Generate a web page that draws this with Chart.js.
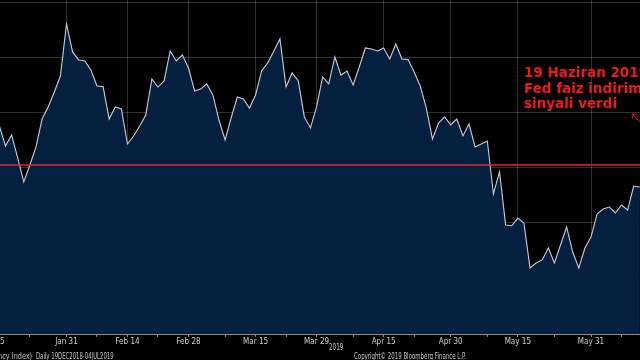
<!DOCTYPE html>
<html>
<head>
<meta charset="utf-8">
<script src="https://cdn.jsdelivr.net/npm/chart.js@4.4.1/dist/chart.umd.min.js"></script>
<style>
  html, body { margin: 0; padding: 0; background: #000; width: 640px; height: 360px; overflow: hidden; }
  #wrap { position: absolute; left: -25px; top: 0; width: 677px; height: 360px; }
  .note { position: absolute; left: 524px; top: 65px; color: #f01818; font: bold 13.5px 'DejaVu Sans', sans-serif; line-height: 15.5px; white-space: nowrap; }
  .foot { position: absolute; color: #c4c4c4; font: 8px 'DejaVu Sans Condensed', 'Liberation Sans', sans-serif; white-space: nowrap; line-height: 9px; }
</style>
</head>
<body>
<div id="wrap"><canvas id="chart" width="677" height="360"></canvas></div>
<div class="note">19 Haziran 2019<br>Fed faiz indirimi<br>sinyali verdi</div>
<div class="foot" id="year" style="left:327px; top:343px;">2019</div>
<div class="foot" id="srcName" style="right:608px; top:352px; transform-origin:right center;">(Currency Index)</div>
<div class="foot" id="srcRange" style="left:36px; top:352px; transform-origin:left center;">Daily 19DEC2018-04JUL2019</div>
<div class="foot" id="copy" style="left:354px; top:352px; transform-origin:left center;">Copyright© 2019 Bloomberg Finance L.P.</div>
<script>
// weekdays, Jan 10 - Jun 14 2019 (the picture is cropped, edges are off-screen)
const dates = [
  'Jan 10','Jan 11','Jan 14','Jan 15','Jan 16','Jan 17','Jan 18','Jan 21','Jan 22','Jan 23','Jan 24','Jan 25','Jan 28','Jan 29','Jan 30','Jan 31',
  'Feb 1','Feb 4','Feb 5','Feb 6','Feb 7','Feb 8','Feb 11','Feb 12','Feb 13','Feb 14','Feb 15','Feb 18','Feb 19','Feb 20','Feb 21','Feb 22','Feb 25','Feb 26','Feb 27','Feb 28',
  'Mar 1','Mar 4','Mar 5','Mar 6','Mar 7','Mar 8','Mar 11','Mar 12','Mar 13','Mar 14','Mar 15','Mar 18','Mar 19','Mar 20','Mar 21','Mar 22','Mar 25','Mar 26','Mar 27','Mar 28','Mar 29',
  'Apr 1','Apr 2','Apr 3','Apr 4','Apr 5','Apr 8','Apr 9','Apr 10','Apr 11','Apr 12','Apr 15','Apr 16','Apr 17','Apr 18','Apr 19','Apr 22','Apr 23','Apr 24','Apr 25','Apr 26','Apr 29','Apr 30',
  'May 1','May 2','May 3','May 6','May 7','May 8','May 9','May 10','May 13','May 14','May 15','May 16','May 17','May 20','May 21','May 22','May 23','May 24','May 27','May 28','May 29','May 30','May 31',
  'Jun 3','Jun 4','Jun 5','Jun 6','Jun 7','Jun 10','Jun 11','Jun 12','Jun 13','Jun 14'
];

const indexValues = [
  null, null, null, null,
  1633.82, 1632.00, 1633.00, 1630.91, 1628.73, 1630.27, 1631.91, 1634.45, 1635.55, 1636.91,
  1638.36, 1643.09, 1640.55, 1639.82, 1639.73, 1638.91, 1637.45, 1637.40, 1634.45, 1635.55,
  1635.36, 1632.18, 1632.91, 1633.82, 1634.82, 1638.09, 1637.36, 1637.91, 1640.64, 1639.73,
  1640.27, 1639.09, 1637.00, 1637.18, 1637.64, 1636.64, 1634.36, 1632.55, 1634.55, 1636.45,
  1636.27, 1635.45, 1636.64, 1638.82, 1639.55, 1640.64, 1641.73, 1637.36, 1638.64, 1637.91,
  1634.64, 1633.64, 1635.55, 1638.27, 1637.64, 1640.09, 1638.45, 1638.82, 1637.55, 1639.18,
  1640.91, 1640.82, 1640.64, 1640.91, 1639.91, 1641.27, 1639.91, 1639.85, 1638.73, 1637.45,
  1635.45, 1632.64, 1634.09, 1634.64, 1633.91, 1634.45, 1632.91, 1634.00, 1631.91, 1632.18,
  1632.45, 1627.64, 1629.64, 1624.82, 1624.75, 1625.45, 1625.00, 1620.91, 1621.36, 1621.64,
  1622.73, 1621.36, 1623.00, 1624.64, 1622.36, 1620.91, 1622.73, 1623.73, 1625.82, 1626.27,
  1626.45, 1625.91, 1626.64, 1626.18, 1628.36, 1628.27,
  null, null
];

const tickLabels = ['Jan 15','Jan 31','Feb 14','Feb 28','Mar 15','Mar 29','Apr 15','Apr 30','May 15','May 31'];
const minorTicks = ['Jan 23','Feb 7','Feb 21','Mar 8','Mar 22','Apr 8','Apr 22','May 8','May 23','Jun 7'];
const yTicks = [1615, 1620, 1625, 1630, 1635, 1640, 1645];
const yMin = 1614.91;
const yMax = 1645.27;
const fedLevel = 1630.27; // red horizontal line

const gridColor = 'rgba(255,255,255,0.19)';
const tickFont = { family: "'DejaVu Sans Condensed', 'Liberation Sans Narrow', 'Liberation Sans', sans-serif", size: 8 };

const levelLine = {
    id: 'levelLine',
    afterDatasetsDraw(chart) {
        const { ctx, chartArea, scales } = chart;
        const y = scales.y.getPixelForValue(fedLevel);
        ctx.save();
        ctx.strokeStyle = '#e3263d';
        ctx.lineWidth = 1.5;
        ctx.beginPath();
        ctx.moveTo(chartArea.left, y);
        ctx.lineTo(chartArea.right, y);
        ctx.stroke();
        ctx.restore();
    },
    afterDraw(chart) {
        // tail of the annotation arrow, cut by the right edge
        const ctx = chart.ctx;
        ctx.save();
        ctx.strokeStyle = '#d81c1c';
        ctx.lineWidth = 1;
        ctx.beginPath();
        ctx.moveTo(657, 114);
        ctx.lineTo(668, 125);
        ctx.moveTo(657, 114);
        ctx.lineTo(661.5, 114.5);
        ctx.moveTo(657, 114);
        ctx.lineTo(657.5, 118.5);
        ctx.stroke();
        ctx.restore();
    }
};

function tickName(c) {
    const i = c.tick ? c.tick.value : c.index;
    return dates[i];
}

new Chart(document.getElementById('chart'), {
    type: 'line',
    data: {
        labels: dates,
        datasets: [{
            data: indexValues,
            borderColor: '#c9ced6',
            borderWidth: 1.1,
            backgroundColor: '#05203f',
            fill: 'start',
            pointRadius: 0,
            tension: 0
        }]
    },
    options: {
        responsive: false,
        animation: false,
        events: [],
        layout: { padding: 0 },
        plugins: {
            legend: { display: false },
            tooltip: { enabled: false }
        },
        scales: {
            x: {
                type: 'category',
                offset: false,
                z: 1,
                border: { display: true, color: '#8c8c8c', width: 1 },
                grid: {
                    color: c => tickLabels.includes(tickName(c)) ? gridColor : 'rgba(0,0,0,0)',
                    tickColor: c => (tickLabels.includes(tickName(c)) || minorTicks.includes(tickName(c))) ? '#8c8c8c' : 'rgba(0,0,0,0)',
                    tickLength: 3,
                    drawTicks: true
                },
                ticks: {
                    autoSkip: false,
                    maxRotation: 0,
                    minRotation: 0,
                    padding: 0,
                    color: '#d0d0d0',
                    font: tickFont,
                    callback: (v, i) => tickLabels.includes(dates[i]) ? dates[i] : ''
                },
                afterFit: s => { s.height = 26; }
            },
            y: {
                position: 'right',
                min: yMin,
                max: yMax,
                z: 1,
                border: { display: false },
                grid: { color: gridColor, drawTicks: false },
                ticks: { display: false },
                afterBuildTicks: s => { s.ticks = yTicks.map(v => ({ value: v })); },
                afterFit: s => { s.width = 0; }
            }
        }
    },
    plugins: [levelLine]
});

// squeeze the footer texts to the narrow Bloomberg widths
const footWidths = { year: 14, srcName: 54, srcRange: 78, copy: 112 };
Object.keys(footWidths).forEach(id => {
    const el = document.getElementById(id);
    el.style.transform = 'scaleX(' + (footWidths[id] / el.offsetWidth) + ')';
});
</script>
</body>
</html>
